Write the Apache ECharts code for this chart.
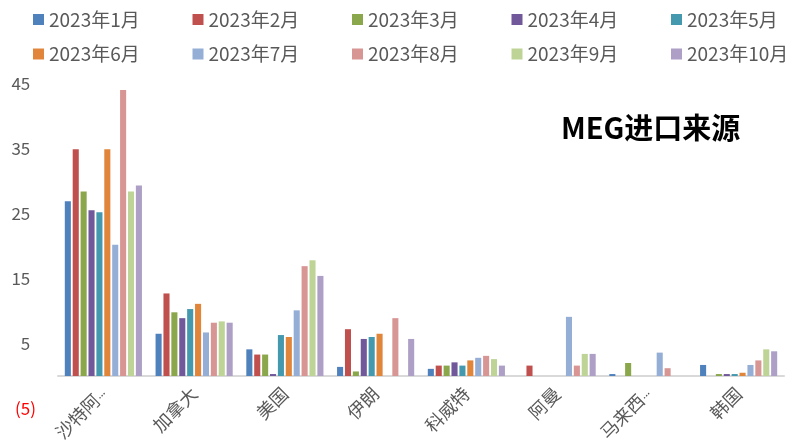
<!DOCTYPE html>
<html><head><meta charset="utf-8">
<script src="https://cdn.jsdelivr.net/npm/echarts@6/dist/echarts.min.js"></script>
<style>html,body{margin:0;padding:0;background:#fff}#c{width:794px;height:440px}</style>
</head><body><div id="c"></div>
<script>
const categories = ['沙特阿拉伯', '加拿大', '美国', '伊朗', '科威特', '阿曼', '马来西亚', '韩国'];
const seriesNames = ['2023年1月', '2023年2月', '2023年3月', '2023年4月', '2023年5月', '2023年6月', '2023年7月', '2023年8月', '2023年9月', '2023年10月'];
const jan = [26.9, 6.5, 4.1, 1.4, 1.1, 0, 0.3, 1.7];
const feb = [34.9, 12.7, 3.3, 7.2, 1.6, 1.6, 0, 0];
const mar = [28.4, 9.8, 3.3, 0.7, 1.6, 0, 2.0, 0.3];
const apr = [25.5, 8.9, 0.3, 5.7, 2.1, 0, 0, 0.3];
const may = [25.2, 10.3, 6.3, 6.0, 1.6, 0, 0, 0.3];
const jun = [34.9, 11.1, 6.0, 6.5, 2.4, 0, 0, 0.5];
const jul = [20.2, 6.7, 10.1, 0, 2.8, 9.1, 3.6, 1.7];
const aug = [44.0, 8.2, 16.9, 8.9, 3.1, 1.6, 1.2, 2.4];
const sep = [28.4, 8.4, 17.8, 0, 2.6, 3.4, 0, 4.1];
const oct = [29.3, 8.2, 15.4, 5.7, 1.6, 3.4, 0, 3.8];
const yMin = -5, yMax = 45, yStep = 10;
const titleText = 'MEG进口来源';

const allData = [jan, feb, mar, apr, may, jun, jul, aug, sep, oct];
const colors = ['#4F81BD', '#C0504D', '#8BA74C', '#71589A', '#4499AE', '#E0853A', '#95AED6', '#D79694', '#BED497', '#AD9FC6'];
const FONT = '"Noto Sans CJK SC", "Noto Sans", sans-serif';

const legendData = seriesNames.slice(0, 5).concat([''], seriesNames.slice(5));

const chart = echarts.init(document.getElementById('c'), null, {renderer: 'canvas'});
chart.setOption({
  animation: false,
  color: colors,
  title: {
    text: titleText, left: 561, top: 113, padding: 0,
    textStyle: {fontFamily: FONT, fontSize: 29, fontWeight: 'bold', color: '#000'}
  },
  legend: {
    data: legendData,
    left: 33, top: 10, width: 800, padding: 0,
    itemWidth: 11, itemHeight: 11, itemGap: 15.5,
    icon: 'rect',
    textStyle: {fontFamily: FONT, fontSize: 19, color: '#595959', width: 128, lineHeight: 18}
  },
  grid: {left: 58, right: 10, top: 83.5, bottom: 31.5, containLabel: false, outerBoundsMode: 'none'},
  xAxis: {
    type: 'category', data: categories,
    axisTick: {show: false},
    axisLine: {lineStyle: {color: '#D9D9D9', width: 2}},
    axisLabel: {
      interval: 0, rotate: 45, margin: -18,
      fontFamily: FONT, fontSize: 18, color: '#595959',
      formatter: v => v.length > 3 ? v.slice(0, 3) + '{e|…}' : v,
      rich: {e: {fontFamily: 'Roboto, sans-serif', fontSize: 14, color: '#595959'}}
    }
  },
  yAxis: {
    type: 'value', min: yMin, max: yMax, interval: yStep,
    splitLine: {show: false}, axisLine: {show: false}, axisTick: {show: false},
    axisLabel: {
      margin: 22, fontFamily: FONT, fontSize: 17, color: '#595959',
      formatter: v => v < 0 ? '{neg|(' + Math.abs(v) + ')}' : v + '{pad|)}',
      rich: {
        neg: {color: '#FF0000', fontFamily: FONT, fontSize: 17},
        pad: {color: 'rgba(0,0,0,0)', fontFamily: FONT, fontSize: 17}
      }
    }
  },
  series: seriesNames.map((n, i) => ({
    name: n, type: 'bar', data: allData[i],
    barGap: '30%', barCategoryGap: '15%',
    itemStyle: {color: colors[i]}
  }))
});
</script></body></html>
